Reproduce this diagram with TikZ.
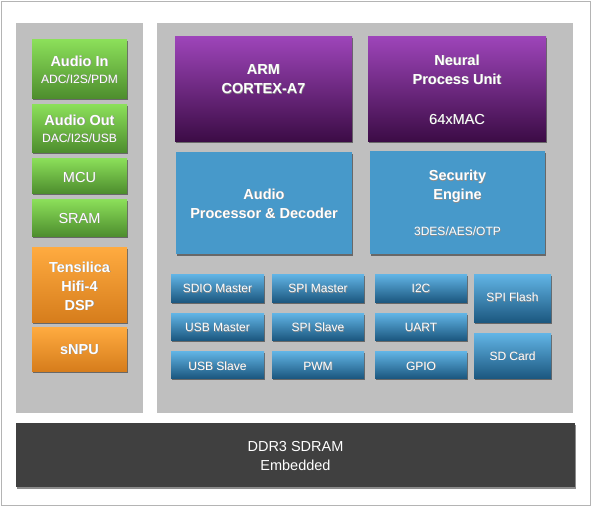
\documentclass[tikz,border=0pt]{standalone}
\usepackage{fontspec}
\setmainfont{Liberation Sans}
\usetikzlibrary{shadows}
\definecolor{panel}{HTML}{BFBFBF}
\definecolor{frame}{HTML}{B4B4B4}
\definecolor{ddr}{HTML}{404040}
\definecolor{gtop}{HTML}{8CE05A}
\definecolor{gbot}{HTML}{4E8E2E}
\definecolor{otop}{HTML}{FFAB40}
\definecolor{obot}{HTML}{D67D1C}
\definecolor{ptop}{HTML}{9E45BA}
\definecolor{pbot}{HTML}{3C0C46}
\definecolor{bflat}{HTML}{4799CA}
\definecolor{stop}{HTML}{62B5E6}
\definecolor{sbot}{HTML}{1C5880}
\newcommand\mybox[6]{\node[#2, minimum width={(#5-#3)*1pt}, minimum height={(#6-#4)*1pt}] (#1) at ({(#3+#5)/2},{(#4+#6)/2}) {};}
\newcommand\sh[1]{\leavevmode\rlap{\hspace{0.6pt}\raisebox{-0.8pt}{\textcolor{black!45}{#1}}}#1}
\begin{document}
\begin{tikzpicture}[x=1pt,y=-1pt,
  shd/.style={drop shadow={shadow xshift=1pt,shadow yshift=-1.5pt,opacity=.45,fill=black}},
  boxbase/.style={inner sep=0pt,outer sep=0pt,draw=none,rectangle,shd},
  greenbox/.style={boxbase,top color=gtop,bottom color=gbot},
  orangebox/.style={boxbase,top color=otop,bottom color=obot},
  purplebox/.style={boxbase,top color=ptop,bottom color=pbot},
  bluebox/.style={boxbase,fill=bflat},
  smallbox/.style={boxbase,top color=stop,bottom color=sbot},
  ddrbox/.style={boxbase,fill=ddr},
  panelbox/.style={inner sep=0pt,outer sep=0pt,draw=none,fill=panel},
  tb/.style={text=white,anchor=base,inner sep=0pt,font=\fontsize{14.5}{17}\selectfont\bfseries},
  tr/.style={text=white,anchor=base,inner sep=0pt,font=\fontsize{12}{14}\selectfont},
  tm/.style={text=white,anchor=base,inner sep=0pt,font=\fontsize{14.5}{17}\selectfont},
]
\useasboundingbox (0,0) rectangle (594,509);
\fill[white] (0,0) rectangle (594,509);
\node[draw=frame,line width=1pt,inner sep=0pt,minimum width=589pt,minimum height=504pt] (outer) at (295.5,253) {};
% panels
\mybox{lpanel}{panelbox}{16}{23}{143}{413}
\mybox{rpanel}{panelbox}{157}{23}{573}{413}
% DDR
\mybox{ddrb}{ddrbox}{16}{423}{575}{487}
\node[tm] (ddrA) at (295.5,451.7) {DDR3 SDRAM};
\node[tm] (ddrB) at (295.5,470.7) {Embedded};
% left column
\mybox{ain}{greenbox}{32}{39}{127}{98}
\mybox{aout}{greenbox}{32}{104}{127}{152}
\mybox{mcu}{greenbox}{32}{158}{127}{193}
\mybox{sram}{greenbox}{32}{199}{127}{236}
\mybox{tens}{orangebox}{32}{247}{127}{322}
\mybox{snpu}{orangebox}{32}{327}{127}{371}
\node[tb] (ainA) at (79.5,66) {\sh{Audio In}};
\node[tr] (ainB) at (79.5,83) {\sh{ADC/I2S/PDM}};
\node[tb] (aoutA) at (79.5,125) {\sh{Audio Out}};
\node[tr] (aoutB) at (79.5,142) {\sh{DAC/I2S/USB}};
\node[tm] (mcuT) at (79.5,182) {\sh{MCU}};
\node[tm] (sramT) at (79.5,223) {\sh{SRAM}};
\node[tb] (tensA) at (79.5,272) {\sh{Tensilica}};
\node[tb] (tensB) at (79.5,291) {\sh{Hifi-4}};
\node[tb] (tensC) at (79.5,310) {\sh{DSP}};
\node[tb] (snpuT) at (79.5,354) {\sh{sNPU}};
% big blocks
\mybox{arm}{purplebox}{175}{36}{352}{141}
\mybox{npu}{purplebox}{368}{36}{546}{141}
\mybox{apd}{bluebox}{176}{152}{352}{254}
\mybox{sec}{bluebox}{370}{151}{545}{254}
\node[tb] (armA) at (263.5,74) {\sh{ARM}};
\node[tb] (armB) at (263.5,93.3) {\sh{CORTEX-A7}};
\node[tb] (npuA) at (457,65) {\sh{Neural}};
\node[tb] (npuB) at (457,84) {\sh{Process Unit}};
\node[tm] (npuC) at (457,124) {\sh{64xMAC}};
\node[tb] (apdA) at (264,199) {\sh{Audio}};
\node[tb] (apdB) at (264,218) {\sh{Processor \& Decoder}};
\node[tb] (secA) at (457.5,180.5) {\sh{Security}};
\node[tb] (secB) at (457.5,199.5) {\sh{Engine}};
\node[tr] (secC) at (457.5,235.7) {\sh{3DES/AES/OTP}};
% small blocks
\mybox{sdio}{smallbox}{171}{274}{264}{302}
\mybox{spim}{smallbox}{272}{274}{364}{302}
\mybox{itc}{smallbox}{375}{274}{467}{302}
\mybox{usbm}{smallbox}{171}{313}{264}{340}
\mybox{spis}{smallbox}{272}{313}{364}{340}
\mybox{uart}{smallbox}{375}{313}{467}{340}
\mybox{usbs}{smallbox}{171}{351}{264}{378}
\mybox{pwm}{smallbox}{272}{351}{364}{378}
\mybox{gpio}{smallbox}{375}{351}{467}{378}
\mybox{spif}{smallbox}{474}{274}{551}{322}
\mybox{sdc}{smallbox}{474}{333}{551}{378}
\node[tr] (sdioT) at (217.5,292.3) {\sh{SDIO Master}};
\node[tr] (spimT) at (318,292.3) {\sh{SPI Master}};
\node[tr] (itcT) at (421,292.3) {\sh{I2C}};
\node[tr] (usbmT) at (217.5,331.7) {\sh{USB Master}};
\node[tr] (spisT) at (318,331.7) {\sh{SPI Slave}};
\node[tr] (uartT) at (421,331.7) {\sh{UART}};
\node[tr] (usbsT) at (217.5,370) {\sh{USB Slave}};
\node[tr] (pwmT) at (318,370) {\sh{PWM}};
\node[tr] (gpioT) at (421,370) {\sh{GPIO}};
\node[tr] (spifT) at (512.5,301.7) {\sh{SPI Flash}};
\node[tr] (sdcT) at (512.5,360) {\sh{SD Card}};
\end{tikzpicture}
\end{document}
